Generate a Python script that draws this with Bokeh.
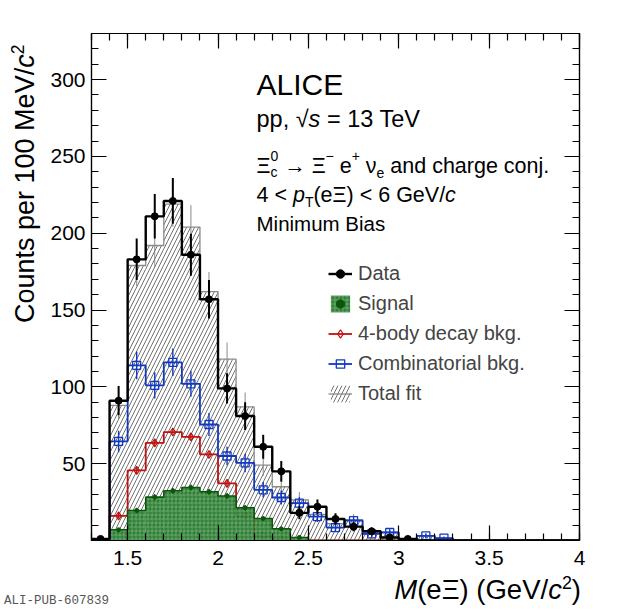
import math
from bokeh.plotting import figure
from bokeh.layouts import row, column
from bokeh.models import (Label, Legend, LegendItem, LinearAxis, SingleIntervalTicker,
                          CustomJSTickFormatter, Range1d, Div)
from bokeh.embed import file_html
from bokeh.resources import INLINE

# bins of 0.1 GeV/c^2 (low edges)
bin_lo = [1.3, 1.4, 1.5, 1.6, 1.7, 1.8, 1.9, 2.0, 2.1, 2.2, 2.3, 2.4, 2.5, 2.6,
          2.7, 2.8, 2.9, 3.0, 3.1, 3.2, 3.3, 3.4, 3.5, 3.6, 3.7, 3.8, 3.9]

data_counts = [1, 91, 183, 211, 221, 186, 157, 99, 81, 61, 45, 18, 22, 14, 9, 6, 2, 1,
               0, 0, 0, 0, 0, 0, 0, 0, 0]
data_err = [1.0, 9.5, 13.5, 14.5, 14.9, 13.6, 12.5, 9.9, 9.0, 7.8, 6.7, 4.2, 4.7, 3.7,
            3.0, 2.4, 1.4, 1.0, 0, 0, 0, 0, 0, 0, 0, 0, 0]

total_fit = [0.5, 88, 179, 192, 219, 204, 162, 118, 87, 49, 35, 26.5, 17, 11, 13.5,
             5.5, 5.5, 1.0, 3.0, 1.5, 0, 0, 0, 0, 0, 0, 0]
total_err = [0.5, 9.4, 13.4, 13.9, 14.8, 14.3, 12.7, 10.9, 9.3, 7.0, 5.9, 5.1, 4.1, 3.3,
             3.7, 2.3, 2.3, 1.0, 1.7, 1.2, 0, 0, 0, 0, 0, 0, 0]

comb_bkg = [0, 64.5, 114, 101, 116, 102, 75.5, 55, 50.5, 33, 28, 24.3, 15.6, 8.4, 13,
            4.3, 5.2, 0, 3.0, 1.5, 0, 0, 0, 0, 0, 0, 0]
comb_err = [0, 7.0, 9.0, 8.5, 9.0, 8.5, 7.5, 6.0, 6.0, 5.0, 4.5, 4.0, 3.5, 2.5, 3.0,
            2.0, 2.0, 0, 1.5, 1.0, 0, 0, 0, 0, 0, 0, 0]

fourbody_bkg = [0, 16, 45.6, 63.5, 70.6, 67.4, 56, 37.2, 16, 3, 1, 0.5,
                0, 0, 0, 0, 0, 0, 0, 0, 0, 0, 0, 0, 0, 0, 0]
fourbody_err = [0, 1.5, 1.8, 2.0, 2.0, 2.0, 2.0, 1.8, 1.5, 0.8, 0.5, 0.3,
                0, 0, 0, 0, 0, 0, 0, 0, 0, 0, 0, 0, 0, 0, 0]

signal = [0.4, 7, 19.5, 28.2, 32.4, 34.5, 31.7, 29, 21.3, 14.3, 7.6, 2,
          0, 0, 0, 0, 0, 0, 0, 0, 0, 0, 0, 0, 0, 0, 0]
signal_err = [0.3, 1.2, 1.8, 2.0, 2.0, 2.0, 2.0, 2.0, 1.8, 1.5, 1.2, 0.6,
              0, 0, 0, 0, 0, 0, 0, 0, 0, 0, 0, 0, 0, 0, 0]

bin_hi = [round(b + 0.1, 2) for b in bin_lo]
bin_mid = [round(b + 0.05, 3) for b in bin_lo]
edges = bin_lo + [bin_hi[-1]]

FONT = "Liberation Sans"
BLACK, GRAY = "#000000", "#8a8a8a"
BLUE, RED = "#1238c0", "#c31010"
GREEN_FILL, GREEN_LINE = "#23772a", "#0b560b"

# frame geometry (picture px) used to place the ROOT-like text
FL, FT, FW, FH = 92, 34, 488, 507
X0, X1, Y0, Y1 = 1.3, 4.0, 0.0, 330.0
YDIV_W = 45

p = figure(frame_width=FW, frame_height=FH, min_border_left=FL - 1 - YDIV_W,
           min_border_right=18, min_border_top=FT - 1, min_border_bottom=36,
           x_range=Range1d(X0, X1), y_range=Range1d(Y0, Y1),
           output_backend="svg", toolbar_location=None,
           background_fill_color="white", border_fill_color="white")
p.grid.visible = False
p.outline_line_color = "black"
p.outline_line_width = 1.2


def style_axis(ax, labels=True):
    ax.major_tick_in = 15
    ax.major_tick_out = 0
    ax.minor_tick_in = 7
    ax.minor_tick_out = 0
    ax.axis_line_color = "black"
    ax.axis_line_width = 1.2
    ax.major_tick_line_width = 1.2
    ax.minor_tick_line_width = 1.2
    ax.major_tick_line_color = "black"
    ax.minor_tick_line_color = "black"
    if labels:
        ax.major_label_text_font = FONT
        ax.major_label_text_font_size = "21px"
        ax.major_label_text_color = "black"
    else:
        # mirror ticks only, as ROOT draws them on the top and right
        ax.major_label_text_color = None
        ax.major_label_text_font_size = "0px"
        ax.major_label_standoff = 0


xfmt = "return (Math.round(tick*10)/10).toString();"
yfmt = "return tick == 0 ? '' : tick.toFixed(0);"
p.xaxis.ticker = SingleIntervalTicker(interval=0.5, num_minor_ticks=5)
p.xaxis.formatter = CustomJSTickFormatter(code=xfmt)
p.xaxis.major_label_standoff = 10
p.yaxis.ticker = SingleIntervalTicker(interval=50, num_minor_ticks=5)
p.yaxis.formatter = CustomJSTickFormatter(code=yfmt)
p.yaxis.major_label_standoff = 6
style_axis(p.xaxis[0])
style_axis(p.yaxis[0])

top = LinearAxis(ticker=SingleIntervalTicker(interval=0.5, num_minor_ticks=5))
right = LinearAxis(ticker=SingleIntervalTicker(interval=50, num_minor_ticks=5))
style_axis(top, labels=False)
style_axis(right, labels=False)
p.add_layout(top, "above")
p.add_layout(right, "right")


def last(v):
    return v + [v[-1]]


def points(vals, errs):
    xs = [m for m, v in zip(bin_mid, vals) if v > 0]
    ys = [v for v in vals if v > 0]
    es = [e for v, e in zip(vals, errs) if v > 0]
    lo = [max(y - e, 0) for y, e in zip(ys, es)]
    hi = [y + e for y, e in zip(ys, es)]
    return xs, ys, lo, hi


# total fit: hatched histogram
r_tot_fill = p.quad(left=bin_lo, right=bin_hi, bottom=0, top=total_fit,
                    fill_color=None, line_color=None, hatch_pattern="/",
                    hatch_color="#333333", hatch_scale=8, hatch_weight=0.7)
r_tot_line = p.step(edges, last(total_fit), mode="after", line_color=GRAY, line_width=1.3)
tx, ty, tlo, thi = points(total_fit, total_err)
p.segment(tx, tlo, tx, thi, line_color=GRAY, line_width=1)

# 4-body decay background
r_red = p.step(edges, last(fourbody_bkg), mode="after", line_color=RED, line_width=1.8)
rx, ry, rlo, rhi = points(fourbody_bkg, fourbody_err)
p.segment(rx, rlo, rx, rhi, line_color=RED, line_width=1.2)
r_red_pts = p.scatter(rx, ry, marker="diamond", size=8, fill_color=None,
                      line_color=RED, line_width=1.2)

# signal
r_sig = p.quad(left=bin_lo, right=bin_hi, bottom=0, top=signal,
               fill_color=GREEN_FILL, fill_alpha=0.92, line_color=None,
               hatch_pattern="+", hatch_color="#b4e0b4", hatch_alpha=0.6,
               hatch_scale=4, hatch_weight=0.6)
p.step(edges, last(signal), mode="after", line_color=GREEN_LINE, line_width=1.6)
gx, gy, glo, ghi = points(signal, signal_err)
p.segment(gx, glo, gx, ghi, line_color=GREEN_LINE, line_width=1.2)
r_sig_pts = p.scatter(gx, gy, marker="circle", size=4, fill_color=GREEN_LINE,
                      line_color=GREEN_LINE)

# combinatorial background
r_blue = p.step(edges, last(comb_bkg), mode="after", line_color=BLUE, line_width=1.8)
bx, by, blo, bhi = points(comb_bkg, comb_err)
p.segment(bx, blo, bx, bhi, line_color=BLUE, line_width=1.4)
r_blue_pts = p.scatter(bx, by, marker="square", size=8, fill_color=None,
                       line_color=BLUE, line_width=1.3)

# data
r_data = p.step(edges, last(data_counts), mode="after", line_color=BLACK, line_width=2.4)
dx, dy, dlo, dhi = points(data_counts, data_err)
p.segment(dx, dlo, dx, dhi, line_color=BLACK, line_width=2)
r_data_pts = p.scatter(dx, dy, marker="circle", size=7, fill_color=BLACK, line_color=BLACK)

legend = Legend(items=[
    LegendItem(label="Data", renderers=[r_data, r_data_pts]),
    LegendItem(label="Signal", renderers=[r_sig, r_sig_pts]),
    LegendItem(label="4-body decay bkg.", renderers=[r_red, r_red_pts]),
    LegendItem(label="Combinatorial bkg.", renderers=[r_blue, r_blue_pts]),
    LegendItem(label="Total fit", renderers=[r_tot_fill, r_tot_line]),
], location=(237, 135), orientation="vertical")
legend.label_text_font = FONT
legend.label_text_font_size = "20px"
legend.label_standoff = 6
legend.glyph_width = 24
legend.glyph_height = 21
legend.label_height = 21
legend.spacing = 7
legend.padding = 0
legend.margin = 0
legend.border_line_color = None
legend.background_fill_alpha = 0
p.add_layout(legend)

# ROOT-like rich text inside the frame, built from pieces
WIDTHS = {" ": 278, "(": 333, ")": 333, ",": 278, ".": 278, "/": 278, "<": 584,
          "=": 584, "+": 584, "\u2212": 584, "\u2192": 1000, "\u221a": 549, "-": 333,
          "A": 667, "B": 667, "C": 722, "E": 667, "G": 778, "I": 278, "L": 556,
          "M": 833, "T": 611, "V": 667, "a": 556, "b": 556, "c": 500, "d": 556,
          "e": 556, "f": 278, "g": 556, "h": 556, "i": 222, "j": 222, "k": 500,
          "l": 222, "m": 833, "n": 556, "o": 556, "p": 556, "r": 333, "s": 500,
          "t": 278, "u": 556, "y": 500, "\u039e": 648, "\u03bd": 500}


def tw(s, size):
    return sum(WIDTHS.get(ch, 556) for ch in s) * size / 1000.0


def to_data(px, py):
    return (X0 + (px - FL) * (X1 - X0) / FW, Y0 + (FT + FH - py) * (Y1 - Y0) / FH)


def place(text, px, py, size, style):
    x, y = to_data(px, py)
    p.add_layout(Label(x=x, y=y, text=text, text_font=FONT, text_font_size=f"{size:.1f}px",
                       text_font_style=style, text_color="black", text_align="left",
                       text_baseline="alphabetic"))


def put(pieces, px, py, size):
    adv = 0.0
    small = 0.65 * size
    for text, kind in pieces:
        if kind == "stack":
            place(text[0], px + adv, py + 0.3 * size, small, "normal")
            place(text[1], px + adv, py - 0.42 * size, small, "normal")
            adv += max(tw(text[0], small), tw(text[1], small))
            continue
        fs = small if kind in ("sub", "sup") else size
        shift = {"sub": 0.33 * size, "sup": -0.42 * size}.get(kind, 0)
        body = text.lstrip(" ")
        adv += tw(text[:len(text) - len(body)], fs)  # leading blanks are not kept in svg
        place(body, px + adv, py + shift, fs, "italic" if kind == "i" else "normal")
        adv += tw(body, fs)


put([("ALICE", "n")], 257, 85, 30)
put([("pp, ", "n"), ("\u221a", "n"), ("s", "i"), (" = 13 TeV", "n")], 257, 119, 23.5)
put([("\u039e", "n"), (("c", "0"), "stack"), (" \u2192 \u039e", "n"), ("\u2212", "sup"),
     (" e", "n"), ("+", "sup"), (" \u03bd", "n"), ("e", "sub"),
     (" and charge conj.", "n")], 257, 166, 21.5)
put([("4 < ", "n"), ("p", "i"), ("T", "sub"), ("(e\u039e) < 6 GeV/", "n"), ("c", "i")],
    257, 195, 21.5)
put([("Minimum Bias", "n")], 257, 224, 20.5)

# axis titles outside the frame (annotations there would be clipped)
SUP = "<span style='font-size:0.65em; position:relative; top:-0.55em;'>2</span>"
ytitle = Div(width=YDIV_W, height=FT - 1 + FH + 36, margin=0, text=(
    "<div style=\"font-family:'Liberation Sans'; font-size:27px; line-height:27px; "
    "color:black; white-space:nowrap; transform-origin:0 0; "
    "transform:translate(12px, 323px) rotate(-90deg);\">"
    "Counts per 100 MeV/<i>c</i>" + SUP + "</div>"))
total_w = YDIV_W + (FL - 1 - YDIV_W) + FW + 18
xtitle = Div(width=total_w, height=32, margin=0, text=(
    f"<div style=\"position:relative; width:{total_w}px; height:32px; "
    "font-family:'Liberation Sans'; color:black;\">"
    "<span style=\"position:absolute; left:4px; top:17px; font-family:'Liberation Mono'; "
    "font-size:12.5px; color:#555555; white-space:nowrap;\">ALI-PUB-607839</span>"
    f"<span style=\"position:absolute; right:{total_w - 581}px; top:0px; font-size:27.5px; "
    "line-height:27.5px; white-space:nowrap;\"><i>M</i>(e\u039e) (GeV/<i>c</i>" + SUP +
    ")</span></div>"))

layout = column(row(ytitle, p, spacing=0), xtitle, spacing=0)

open("out.html", "w").write(file_html(layout, INLINE))
